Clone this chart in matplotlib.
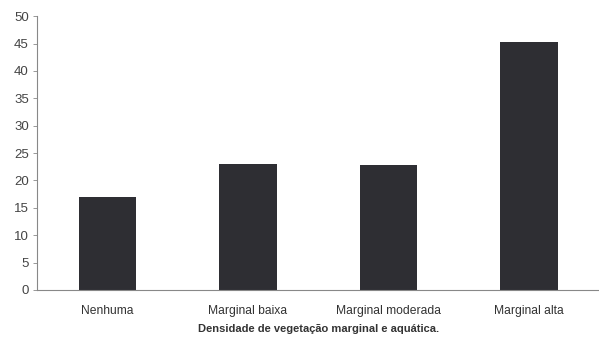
import matplotlib
matplotlib.use('Agg')
import matplotlib.pyplot as plt

categories = ['Nenhuma', 'Marginal baixa', 'Marginal moderada', 'Marginal alta']
values = [17.0, 23.0, 22.8, 45.3]
yticks = [0, 5, 10, 15, 20, 25, 30, 35, 40, 45, 50]

plt.rcParams['font.family'] = ['Liberation Sans', 'DejaVu Sans']

fig = plt.figure(figsize=(5.99, 3.44), dpi=100)
ax = fig.add_axes([0.062, 0.157, 0.938, 0.796])

x = range(len(categories))
ax.bar(x, values, width=0.41, color='#2e2e33')

ax.set_xlim(-0.5, 3.5)
ax.set_ylim(0, 50)
ax.set_yticks(yticks)
ax.set_xticks(list(x))
ax.set_xticklabels(categories, fontsize=8.7, color='#333333')
ax.tick_params(axis='x', length=0, pad=11)
ax.tick_params(axis='y', length=3, width=0.6, color='#888888',
               labelsize=9.5, labelcolor='#444444', pad=3)

for s in ['top', 'right']:
    ax.spines[s].set_visible(False)
for s in ['left', 'bottom']:
    ax.spines[s].set_color('#888888')
    ax.spines[s].set_linewidth(0.8)

ax.set_xlabel('Densidade de vegetação marginal e aquática.', fontsize=8,
              fontweight='bold', color='#333333', labelpad=5)

fig.savefig('out.png', dpi=100)
